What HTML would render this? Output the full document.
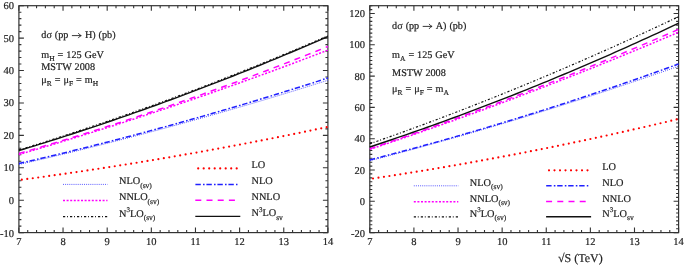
<!DOCTYPE html>
<html><head><meta charset="utf-8"><style>
html,body{margin:0;padding:0;background:#fff;}
svg{display:block;will-change:transform;}
text{font-family:'Liberation Serif', serif;fill:#1e1e1e;text-rendering:geometricPrecision;stroke:#1e1e1e;stroke-width:0.2px;}
.t{font-size:10.5px;}
.it{font-size:10.2px;word-spacing:0.4px;}
.lg{font-size:10.3px;}
.xl{font-size:12px;}
.sub{font-size:7.5px;}
.sup{font-size:7px;}
</style></head><body>
<svg width="685" height="266" viewBox="0 0 685 266">
<rect x="18.9" y="5.7" width="309.0" height="226.9" fill="none" stroke="#333" stroke-width="1.2"/>
<path d="M18.90,232.6v-5M18.90,5.7v5M27.73,232.6v-2.5M27.73,5.7v2.5M36.56,232.6v-2.5M36.56,5.7v2.5M45.39,232.6v-2.5M45.39,5.7v2.5M54.21,232.6v-2.5M54.21,5.7v2.5M63.04,232.6v-5M63.04,5.7v5M71.87,232.6v-2.5M71.87,5.7v2.5M80.70,232.6v-2.5M80.70,5.7v2.5M89.53,232.6v-2.5M89.53,5.7v2.5M98.36,232.6v-2.5M98.36,5.7v2.5M107.19,232.6v-5M107.19,5.7v5M116.01,232.6v-2.5M116.01,5.7v2.5M124.84,232.6v-2.5M124.84,5.7v2.5M133.67,232.6v-2.5M133.67,5.7v2.5M142.50,232.6v-2.5M142.50,5.7v2.5M151.33,232.6v-5M151.33,5.7v5M160.16,232.6v-2.5M160.16,5.7v2.5M168.99,232.6v-2.5M168.99,5.7v2.5M177.81,232.6v-2.5M177.81,5.7v2.5M186.64,232.6v-2.5M186.64,5.7v2.5M195.47,232.6v-5M195.47,5.7v5M204.30,232.6v-2.5M204.30,5.7v2.5M213.13,232.6v-2.5M213.13,5.7v2.5M221.96,232.6v-2.5M221.96,5.7v2.5M230.79,232.6v-2.5M230.79,5.7v2.5M239.61,232.6v-5M239.61,5.7v5M248.44,232.6v-2.5M248.44,5.7v2.5M257.27,232.6v-2.5M257.27,5.7v2.5M266.10,232.6v-2.5M266.10,5.7v2.5M274.93,232.6v-2.5M274.93,5.7v2.5M283.76,232.6v-5M283.76,5.7v5M292.59,232.6v-2.5M292.59,5.7v2.5M301.41,232.6v-2.5M301.41,5.7v2.5M310.24,232.6v-2.5M310.24,5.7v2.5M319.07,232.6v-2.5M319.07,5.7v2.5M327.90,232.6v-5M327.90,5.7v5M18.9,232.60h5M327.9,232.60h-5M18.9,226.12h2.5M327.9,226.12h-2.5M18.9,219.63h2.5M327.9,219.63h-2.5M18.9,213.15h2.5M327.9,213.15h-2.5M18.9,206.67h2.5M327.9,206.67h-2.5M18.9,200.19h5M327.9,200.19h-5M18.9,193.70h2.5M327.9,193.70h-2.5M18.9,187.22h2.5M327.9,187.22h-2.5M18.9,180.74h2.5M327.9,180.74h-2.5M18.9,174.25h2.5M327.9,174.25h-2.5M18.9,167.77h5M327.9,167.77h-5M18.9,161.29h2.5M327.9,161.29h-2.5M18.9,154.81h2.5M327.9,154.81h-2.5M18.9,148.32h2.5M327.9,148.32h-2.5M18.9,141.84h2.5M327.9,141.84h-2.5M18.9,135.36h5M327.9,135.36h-5M18.9,128.87h2.5M327.9,128.87h-2.5M18.9,122.39h2.5M327.9,122.39h-2.5M18.9,115.91h2.5M327.9,115.91h-2.5M18.9,109.43h2.5M327.9,109.43h-2.5M18.9,102.94h5M327.9,102.94h-5M18.9,96.46h2.5M327.9,96.46h-2.5M18.9,89.98h2.5M327.9,89.98h-2.5M18.9,83.49h2.5M327.9,83.49h-2.5M18.9,77.01h2.5M327.9,77.01h-2.5M18.9,70.53h5M327.9,70.53h-5M18.9,64.05h2.5M327.9,64.05h-2.5M18.9,57.56h2.5M327.9,57.56h-2.5M18.9,51.08h2.5M327.9,51.08h-2.5M18.9,44.60h2.5M327.9,44.60h-2.5M18.9,38.11h5M327.9,38.11h-5M18.9,31.63h2.5M327.9,31.63h-2.5M18.9,25.15h2.5M327.9,25.15h-2.5M18.9,18.67h2.5M327.9,18.67h-2.5M18.9,12.18h2.5M327.9,12.18h-2.5M18.9,5.70h5M327.9,5.70h-5" stroke="#333" stroke-width="1.1" fill="none"/>
<text x="18.90" y="245.1" text-anchor="middle" class="t">7</text>
<text x="63.04" y="245.1" text-anchor="middle" class="t">8</text>
<text x="107.19" y="245.1" text-anchor="middle" class="t">9</text>
<text x="151.33" y="245.1" text-anchor="middle" class="t">10</text>
<text x="195.47" y="245.1" text-anchor="middle" class="t">11</text>
<text x="239.61" y="245.1" text-anchor="middle" class="t">12</text>
<text x="283.76" y="245.1" text-anchor="middle" class="t">13</text>
<text x="327.90" y="245.1" text-anchor="middle" class="t">14</text>
<text x="14" y="236.90" text-anchor="end" class="t">-10</text>
<text x="14" y="203.69" text-anchor="end" class="t">0</text>
<text x="14" y="171.27" text-anchor="end" class="t">10</text>
<text x="14" y="138.86" text-anchor="end" class="t">20</text>
<text x="14" y="106.44" text-anchor="end" class="t">30</text>
<text x="14" y="74.03" text-anchor="end" class="t">40</text>
<text x="14" y="41.61" text-anchor="end" class="t">50</text>
<text x="14" y="9.20" text-anchor="end" class="t">60</text>
<path d="M18.90,180.09 L24.14,179.39 L29.37,178.69 L34.61,177.98 L39.85,177.26 L45.09,176.54 L50.32,175.81 L55.56,175.07 L60.80,174.32 L66.04,173.57 L71.27,172.81 L76.51,172.04 L81.75,171.27 L86.98,170.49 L92.22,169.70 L97.46,168.90 L102.70,168.10 L107.93,167.29 L113.17,166.48 L118.41,165.65 L123.65,164.82 L128.88,163.99 L134.12,163.14 L139.36,162.29 L144.59,161.43 L149.83,160.56 L155.07,159.69 L160.31,158.81 L165.54,157.93 L170.78,157.03 L176.02,156.13 L181.26,155.22 L186.49,154.31 L191.73,153.38 L196.97,152.46 L202.21,151.52 L207.44,150.58 L212.68,149.63 L217.92,148.67 L223.15,147.70 L228.39,146.73 L233.63,145.75 L238.87,144.77 L244.10,143.77 L249.34,142.77 L254.58,141.77 L259.82,140.75 L265.05,139.73 L270.29,138.70 L275.53,137.67 L280.76,136.63 L286.00,135.58 L291.24,134.52 L296.48,133.46 L301.71,132.39 L306.95,131.31 L312.19,130.23 L317.43,129.13 L322.66,128.04 L327.90,126.93" fill="none" stroke="#ff0000" stroke-width="2.2" stroke-linecap="round" stroke-dasharray="0 5.525" stroke-dashoffset="-2.93"/>
<path d="M18.90,164.53 L24.14,163.33 L29.37,162.13 L34.61,160.91 L39.85,159.69 L45.09,158.46 L50.32,157.22 L55.56,155.97 L60.80,154.72 L66.04,153.46 L71.27,152.19 L76.51,150.91 L81.75,149.63 L86.98,148.33 L92.22,147.03 L97.46,145.72 L102.70,144.40 L107.93,143.08 L113.17,141.74 L118.41,140.40 L123.65,139.05 L128.88,137.70 L134.12,136.33 L139.36,134.96 L144.59,133.58 L149.83,132.19 L155.07,130.79 L160.31,129.39 L165.54,127.98 L170.78,126.56 L176.02,125.13 L181.26,123.69 L186.49,122.25 L191.73,120.79 L196.97,119.33 L202.21,117.87 L207.44,116.39 L212.68,114.91 L217.92,113.41 L223.15,111.91 L228.39,110.41 L233.63,108.89 L238.87,107.37 L244.10,105.84 L249.34,104.30 L254.58,102.75 L259.82,101.19 L265.05,99.63 L270.29,98.06 L275.53,96.48 L280.76,94.89 L286.00,93.30 L291.24,91.70 L296.48,90.08 L301.71,88.47 L306.95,86.84 L312.19,85.20 L317.43,83.56 L322.66,81.91 L327.90,80.25" fill="none" stroke="#4848ff" stroke-width="0.9" stroke-dasharray="1 1.1"/>
<path d="M18.90,163.56 L24.14,162.35 L29.37,161.14 L34.61,159.92 L39.85,158.69 L45.09,157.45 L50.32,156.20 L55.56,154.95 L60.80,153.68 L66.04,152.41 L71.27,151.13 L76.51,149.84 L81.75,148.54 L86.98,147.24 L92.22,145.92 L97.46,144.60 L102.70,143.27 L107.93,141.93 L113.17,140.58 L118.41,139.22 L123.65,137.85 L128.88,136.48 L134.12,135.10 L139.36,133.71 L144.59,132.31 L149.83,130.90 L155.07,129.48 L160.31,128.06 L165.54,126.62 L170.78,125.18 L176.02,123.73 L181.26,122.27 L186.49,120.81 L191.73,119.33 L196.97,117.85 L202.21,116.35 L207.44,114.85 L212.68,113.34 L217.92,111.82 L223.15,110.30 L228.39,108.76 L233.63,107.22 L238.87,105.67 L244.10,104.11 L249.34,102.54 L254.58,100.96 L259.82,99.37 L265.05,97.78 L270.29,96.18 L275.53,94.56 L280.76,92.94 L286.00,91.32 L291.24,89.68 L296.48,88.03 L301.71,86.38 L306.95,84.72 L312.19,83.05 L317.43,81.37 L322.66,79.68 L327.90,77.98" fill="none" stroke="#2020ff" stroke-width="1.5" stroke-dasharray="5.4 2.2 1.6 1.8"/>
<path d="M18.90,154.48 L24.14,152.96 L29.37,151.42 L34.61,149.88 L39.85,148.33 L45.09,146.77 L50.32,145.20 L55.56,143.62 L60.80,142.04 L66.04,140.44 L71.27,138.84 L76.51,137.23 L81.75,135.61 L86.98,133.99 L92.22,132.35 L97.46,130.71 L102.70,129.05 L107.93,127.39 L113.17,125.73 L118.41,124.05 L123.65,122.36 L128.88,120.67 L134.12,118.97 L139.36,117.26 L144.59,115.54 L149.83,113.81 L155.07,112.07 L160.31,110.33 L165.54,108.58 L170.78,106.82 L176.02,105.05 L181.26,103.27 L186.49,101.49 L191.73,99.69 L196.97,97.89 L202.21,96.08 L207.44,94.26 L212.68,92.43 L217.92,90.60 L223.15,88.75 L228.39,86.90 L233.63,85.04 L238.87,83.17 L244.10,81.29 L249.34,79.40 L254.58,77.51 L259.82,75.61 L265.05,73.70 L270.29,71.78 L275.53,69.85 L280.76,67.91 L286.00,65.97 L291.24,64.01 L296.48,62.05 L301.71,60.08 L306.95,58.10 L312.19,56.12 L317.43,54.12 L322.66,52.12 L327.90,50.11" fill="none" stroke="#ff00ff" stroke-width="1.5" stroke-dasharray="2 1.6"/>
<path d="M18.90,153.51 L24.14,151.99 L29.37,150.47 L34.61,148.93 L39.85,147.38 L45.09,145.82 L50.32,144.25 L55.56,142.68 L60.80,141.09 L66.04,139.49 L71.27,137.88 L76.51,136.26 L81.75,134.63 L86.98,132.99 L92.22,131.34 L97.46,129.68 L102.70,128.01 L107.93,126.33 L113.17,124.64 L118.41,122.94 L123.65,121.23 L128.88,119.51 L134.12,117.78 L139.36,116.04 L144.59,114.29 L149.83,112.52 L155.07,110.75 L160.31,108.97 L165.54,107.18 L170.78,105.37 L176.02,103.56 L181.26,101.74 L186.49,99.90 L191.73,98.06 L196.97,96.21 L202.21,94.34 L207.44,92.47 L212.68,90.58 L217.92,88.69 L223.15,86.78 L228.39,84.87 L233.63,82.94 L238.87,81.01 L244.10,79.06 L249.34,77.11 L254.58,75.14 L259.82,73.16 L265.05,71.18 L270.29,69.18 L275.53,67.17 L280.76,65.16 L286.00,63.13 L291.24,61.09 L296.48,59.04 L301.71,56.99 L306.95,54.92 L312.19,52.84 L317.43,50.75 L322.66,48.65 L327.90,46.54" fill="none" stroke="#ff00ff" stroke-width="1.5" stroke-dasharray="6 5.2"/>
<path d="M18.90,149.94 L24.14,148.34 L29.37,146.72 L34.61,145.09 L39.85,143.45 L45.09,141.80 L50.32,140.14 L55.56,138.46 L60.80,136.78 L66.04,135.08 L71.27,133.37 L76.51,131.65 L81.75,129.92 L86.98,128.18 L92.22,126.43 L97.46,124.66 L102.70,122.89 L107.93,121.10 L113.17,119.30 L118.41,117.49 L123.65,115.67 L128.88,113.84 L134.12,112.00 L139.36,110.14 L144.59,108.28 L149.83,106.40 L155.07,104.51 L160.31,102.61 L165.54,100.70 L170.78,98.78 L176.02,96.84 L181.26,94.90 L186.49,92.94 L191.73,90.97 L196.97,88.99 L202.21,87.00 L207.44,85.00 L212.68,82.99 L217.92,80.96 L223.15,78.93 L228.39,76.88 L233.63,74.82 L238.87,72.75 L244.10,70.67 L249.34,68.58 L254.58,66.48 L259.82,64.36 L265.05,62.24 L270.29,60.10 L275.53,57.95 L280.76,55.79 L286.00,53.62 L291.24,51.44 L296.48,49.24 L301.71,47.04 L306.95,44.82 L312.19,42.60 L317.43,40.36 L322.66,38.11 L327.90,35.85" fill="none" stroke="#111" stroke-width="1.2" stroke-dasharray="2.2 1.8 0.9 2.1"/>
<path d="M18.90,150.59 L24.14,149.01 L29.37,147.41 L34.61,145.80 L39.85,144.18 L45.09,142.55 L50.32,140.91 L55.56,139.25 L60.80,137.58 L66.04,135.90 L71.27,134.21 L76.51,132.50 L81.75,130.79 L86.98,129.06 L92.22,127.32 L97.46,125.56 L102.70,123.80 L107.93,122.02 L113.17,120.23 L118.41,118.43 L123.65,116.62 L128.88,114.79 L134.12,112.95 L139.36,111.11 L144.59,109.24 L149.83,107.37 L155.07,105.48 L160.31,103.59 L165.54,101.68 L170.78,99.76 L176.02,97.82 L181.26,95.88 L186.49,93.92 L191.73,91.95 L196.97,89.97 L202.21,87.97 L207.44,85.96 L212.68,83.95 L217.92,81.92 L223.15,79.87 L228.39,77.82 L233.63,75.75 L238.87,73.67 L244.10,71.58 L249.34,69.48 L254.58,67.37 L259.82,65.24 L265.05,63.10 L270.29,60.95 L275.53,58.79 L280.76,56.61 L286.00,54.42 L291.24,52.23 L296.48,50.01 L301.71,47.79 L306.95,45.56 L312.19,43.31 L317.43,41.05 L322.66,38.78 L327.90,36.49" fill="none" stroke="#111" stroke-width="1.4"/>
<path d="M63,184.4H107.5" fill="none" stroke="#4848ff" stroke-width="0.9" stroke-dasharray="1 1.1"/>
<text x="119" y="184.4" class="lg">NLO<tspan class="sub" dy="3.3">(sv)</tspan></text>
<path d="M63,200.4H107.5" fill="none" stroke="#ff00ff" stroke-width="1.5" stroke-dasharray="2 1.6"/>
<text x="119" y="200.4" class="lg">NNLO<tspan class="sub" dy="3.3">(sv)</tspan></text>
<path d="M63,216.6H107.5" fill="none" stroke="#111" stroke-width="1.2" stroke-dasharray="2.2 1.8 0.9 2.1"/>
<text x="119" y="216.6" class="lg">N<tspan class="sup" dy="-4.6">3</tspan><tspan dy="4.6">LO</tspan><tspan class="sub" dy="3.3">(sv)</tspan></text>
<path d="M198.2,168.4H237.2" fill="none" stroke="#ff0000" stroke-width="2.2" stroke-linecap="round" stroke-dasharray="0 5.5"/>
<text x="251.5" y="168.4" class="lg">LO</text>
<path d="M195.4,184.4H237.5" fill="none" stroke="#2020ff" stroke-width="1.5" stroke-dasharray="5.4 2.2 1.6 1.8"/>
<text x="251.5" y="184.4" class="lg">NLO</text>
<path d="M195.3,200.3H235" fill="none" stroke="#ff00ff" stroke-width="1.5" stroke-dasharray="6 5.2"/>
<text x="251.5" y="200.3" class="lg">NNLO</text>
<path d="M195.3,216.4H240.3" fill="none" stroke="#111" stroke-width="1.4"/>
<text x="251.5" y="216.4" class="lg">N<tspan class="sup" dy="-4.6">3</tspan><tspan dy="4.6">LO</tspan><tspan class="sub" dy="3.3">sv</tspan></text>
<text x="41.3" y="38.2" class="it">dσ (pp</text>
<path d="M71.90,35.60H81.00M78.30,33.10Q79.50,35.20 81.30,35.60Q79.50,36.00 78.30,38.10" stroke="#222" stroke-width="0.9" fill="none"/>
<text x="84.90" y="38.2" class="it">H) (pb)</text>
<text x="41.3" y="57.6" class="it">m<tspan class="sub" dy="3">H</tspan><tspan dy="-3"> = 125 GeV</tspan></text>
<text x="41.3" y="70.1" class="it">MSTW 2008</text>
<text x="41.3" y="83.3" class="it">μ<tspan class="sub" dy="3">R</tspan><tspan dy="-3"> = μ</tspan><tspan class="sub" dy="3">F</tspan><tspan dy="-3"> = m</tspan><tspan class="sub" dy="3">H</tspan></text>
<rect x="369.8" y="5.7" width="308.8" height="226.9" fill="none" stroke="#333" stroke-width="1.2"/>
<path d="M369.80,232.6v-5M369.80,5.7v5M378.62,232.6v-2.5M378.62,5.7v2.5M387.45,232.6v-2.5M387.45,5.7v2.5M396.27,232.6v-2.5M396.27,5.7v2.5M405.09,232.6v-2.5M405.09,5.7v2.5M413.91,232.6v-5M413.91,5.7v5M422.74,232.6v-2.5M422.74,5.7v2.5M431.56,232.6v-2.5M431.56,5.7v2.5M440.38,232.6v-2.5M440.38,5.7v2.5M449.21,232.6v-2.5M449.21,5.7v2.5M458.03,232.6v-5M458.03,5.7v5M466.85,232.6v-2.5M466.85,5.7v2.5M475.67,232.6v-2.5M475.67,5.7v2.5M484.50,232.6v-2.5M484.50,5.7v2.5M493.32,232.6v-2.5M493.32,5.7v2.5M502.14,232.6v-5M502.14,5.7v5M510.97,232.6v-2.5M510.97,5.7v2.5M519.79,232.6v-2.5M519.79,5.7v2.5M528.61,232.6v-2.5M528.61,5.7v2.5M537.43,232.6v-2.5M537.43,5.7v2.5M546.26,232.6v-5M546.26,5.7v5M555.08,232.6v-2.5M555.08,5.7v2.5M563.90,232.6v-2.5M563.90,5.7v2.5M572.73,232.6v-2.5M572.73,5.7v2.5M581.55,232.6v-2.5M581.55,5.7v2.5M590.37,232.6v-5M590.37,5.7v5M599.19,232.6v-2.5M599.19,5.7v2.5M608.02,232.6v-2.5M608.02,5.7v2.5M616.84,232.6v-2.5M616.84,5.7v2.5M625.66,232.6v-2.5M625.66,5.7v2.5M634.49,232.6v-5M634.49,5.7v5M643.31,232.6v-2.5M643.31,5.7v2.5M652.13,232.6v-2.5M652.13,5.7v2.5M660.95,232.6v-2.5M660.95,5.7v2.5M669.78,232.6v-2.5M669.78,5.7v2.5M678.60,232.6v-5M678.60,5.7v5M369.8,232.60h5M678.6,232.60h-5M369.8,228.69h2.5M678.6,228.69h-2.5M369.8,224.78h2.5M678.6,224.78h-2.5M369.8,220.86h2.5M678.6,220.86h-2.5M369.8,216.95h2.5M678.6,216.95h-2.5M369.8,213.04h2.5M678.6,213.04h-2.5M369.8,209.13h2.5M678.6,209.13h-2.5M369.8,205.22h2.5M678.6,205.22h-2.5M369.8,201.30h5M678.6,201.30h-5M369.8,197.39h2.5M678.6,197.39h-2.5M369.8,193.48h2.5M678.6,193.48h-2.5M369.8,189.57h2.5M678.6,189.57h-2.5M369.8,185.66h2.5M678.6,185.66h-2.5M369.8,181.74h2.5M678.6,181.74h-2.5M369.8,177.83h2.5M678.6,177.83h-2.5M369.8,173.92h2.5M678.6,173.92h-2.5M369.8,170.01h5M678.6,170.01h-5M369.8,166.09h2.5M678.6,166.09h-2.5M369.8,162.18h2.5M678.6,162.18h-2.5M369.8,158.27h2.5M678.6,158.27h-2.5M369.8,154.36h2.5M678.6,154.36h-2.5M369.8,150.45h2.5M678.6,150.45h-2.5M369.8,146.53h2.5M678.6,146.53h-2.5M369.8,142.62h2.5M678.6,142.62h-2.5M369.8,138.71h5M678.6,138.71h-5M369.8,134.80h2.5M678.6,134.80h-2.5M369.8,130.89h2.5M678.6,130.89h-2.5M369.8,126.97h2.5M678.6,126.97h-2.5M369.8,123.06h2.5M678.6,123.06h-2.5M369.8,119.15h2.5M678.6,119.15h-2.5M369.8,115.24h2.5M678.6,115.24h-2.5M369.8,111.33h2.5M678.6,111.33h-2.5M369.8,107.41h5M678.6,107.41h-5M369.8,103.50h2.5M678.6,103.50h-2.5M369.8,99.59h2.5M678.6,99.59h-2.5M369.8,95.68h2.5M678.6,95.68h-2.5M369.8,91.77h2.5M678.6,91.77h-2.5M369.8,87.85h2.5M678.6,87.85h-2.5M369.8,83.94h2.5M678.6,83.94h-2.5M369.8,80.03h2.5M678.6,80.03h-2.5M369.8,76.12h5M678.6,76.12h-5M369.8,72.21h2.5M678.6,72.21h-2.5M369.8,68.29h2.5M678.6,68.29h-2.5M369.8,64.38h2.5M678.6,64.38h-2.5M369.8,60.47h2.5M678.6,60.47h-2.5M369.8,56.56h2.5M678.6,56.56h-2.5M369.8,52.64h2.5M678.6,52.64h-2.5M369.8,48.73h2.5M678.6,48.73h-2.5M369.8,44.82h5M678.6,44.82h-5M369.8,40.91h2.5M678.6,40.91h-2.5M369.8,37.00h2.5M678.6,37.00h-2.5M369.8,33.08h2.5M678.6,33.08h-2.5M369.8,29.17h2.5M678.6,29.17h-2.5M369.8,25.26h2.5M678.6,25.26h-2.5M369.8,21.35h2.5M678.6,21.35h-2.5M369.8,17.44h2.5M678.6,17.44h-2.5M369.8,13.52h5M678.6,13.52h-5M369.8,9.61h2.5M678.6,9.61h-2.5M369.8,5.70h2.5M678.6,5.70h-2.5" stroke="#333" stroke-width="1.1" fill="none"/>
<text x="369.80" y="245.1" text-anchor="middle" class="t">7</text>
<text x="413.91" y="245.1" text-anchor="middle" class="t">8</text>
<text x="458.03" y="245.1" text-anchor="middle" class="t">9</text>
<text x="502.14" y="245.1" text-anchor="middle" class="t">10</text>
<text x="546.26" y="245.1" text-anchor="middle" class="t">11</text>
<text x="590.37" y="245.1" text-anchor="middle" class="t">12</text>
<text x="634.49" y="245.1" text-anchor="middle" class="t">13</text>
<text x="678.60" y="245.1" text-anchor="middle" class="t">14</text>
<text x="365" y="236.90" text-anchor="end" class="t">-20</text>
<text x="365" y="204.80" text-anchor="end" class="t">0</text>
<text x="365" y="173.51" text-anchor="end" class="t">20</text>
<text x="365" y="142.21" text-anchor="end" class="t">40</text>
<text x="365" y="110.91" text-anchor="end" class="t">60</text>
<text x="365" y="79.62" text-anchor="end" class="t">80</text>
<text x="365" y="48.32" text-anchor="end" class="t">100</text>
<text x="365" y="17.02" text-anchor="end" class="t">120</text>
<path d="M369.80,178.95 L375.03,178.18 L380.27,177.39 L385.50,176.59 L390.74,175.79 L395.97,174.98 L401.20,174.16 L406.44,173.33 L411.67,172.50 L416.91,171.65 L422.14,170.80 L427.37,169.94 L432.61,169.07 L437.84,168.19 L443.07,167.31 L448.31,166.41 L453.54,165.51 L458.78,164.60 L464.01,163.68 L469.24,162.76 L474.48,161.82 L479.71,160.88 L484.95,159.93 L490.18,158.97 L495.41,158.00 L500.65,157.02 L505.88,156.04 L511.12,155.05 L516.35,154.05 L521.58,153.04 L526.82,152.02 L532.05,150.99 L537.28,149.96 L542.52,148.92 L547.75,147.87 L552.99,146.81 L558.22,145.74 L563.45,144.67 L568.69,143.59 L573.92,142.49 L579.16,141.39 L584.39,140.29 L589.62,139.17 L594.86,138.05 L600.09,136.91 L605.33,135.77 L610.56,134.63 L615.79,133.47 L621.03,132.30 L626.26,131.13 L631.49,129.95 L636.73,128.76 L641.96,127.56 L647.20,126.35 L652.43,125.14 L657.66,123.92 L662.90,122.68 L668.13,121.45 L673.37,120.20 L678.60,118.94" fill="none" stroke="#ff0000" stroke-width="2.2" stroke-linecap="round" stroke-dasharray="0 5.525" stroke-dashoffset="-3.25"/>
<path d="M369.80,160.74 L375.03,159.38 L380.27,158.01 L385.50,156.63 L390.74,155.25 L395.97,153.85 L401.20,152.45 L406.44,151.04 L411.67,149.62 L416.91,148.20 L422.14,146.76 L427.37,145.32 L432.61,143.86 L437.84,142.40 L443.07,140.93 L448.31,139.46 L453.54,137.97 L458.78,136.48 L464.01,134.97 L469.24,133.46 L474.48,131.94 L479.71,130.42 L484.95,128.88 L490.18,127.34 L495.41,125.78 L500.65,124.22 L505.88,122.65 L511.12,121.08 L516.35,119.49 L521.58,117.90 L526.82,116.29 L532.05,114.68 L537.28,113.06 L542.52,111.44 L547.75,109.80 L552.99,108.16 L558.22,106.50 L563.45,104.84 L568.69,103.17 L573.92,101.49 L579.16,99.81 L584.39,98.11 L589.62,96.41 L594.86,94.70 L600.09,92.98 L605.33,91.25 L610.56,89.52 L615.79,87.77 L621.03,86.02 L626.26,84.26 L631.49,82.49 L636.73,80.71 L641.96,78.92 L647.20,77.13 L652.43,75.33 L657.66,73.51 L662.90,71.69 L668.13,69.87 L673.37,68.03 L678.60,66.18" fill="none" stroke="#4848ff" stroke-width="0.9" stroke-dasharray="1 1.1"/>
<path d="M369.80,159.91 L375.03,158.56 L380.27,157.21 L385.50,155.84 L390.74,154.47 L395.97,153.08 L401.20,151.69 L406.44,150.28 L411.67,148.87 L416.91,147.45 L422.14,146.02 L427.37,144.57 L432.61,143.12 L437.84,141.66 L443.07,140.19 L448.31,138.71 L453.54,137.22 L458.78,135.71 L464.01,134.20 L469.24,132.68 L474.48,131.15 L479.71,129.61 L484.95,128.07 L490.18,126.51 L495.41,124.94 L500.65,123.36 L505.88,121.77 L511.12,120.18 L516.35,118.57 L521.58,116.95 L526.82,115.32 L532.05,113.69 L537.28,112.04 L542.52,110.39 L547.75,108.72 L552.99,107.05 L558.22,105.36 L563.45,103.67 L568.69,101.96 L573.92,100.25 L579.16,98.52 L584.39,96.79 L589.62,95.05 L594.86,93.30 L600.09,91.53 L605.33,89.76 L610.56,87.98 L615.79,86.19 L621.03,84.39 L626.26,82.58 L631.49,80.76 L636.73,78.93 L641.96,77.09 L647.20,75.24 L652.43,73.38 L657.66,71.51 L662.90,69.63 L668.13,67.74 L673.37,65.84 L678.60,63.93" fill="none" stroke="#2020ff" stroke-width="1.5" stroke-dasharray="5.4 2.2 1.6 1.8"/>
<path d="M369.80,149.33 L375.03,147.59 L380.27,145.84 L385.50,144.09 L390.74,142.32 L395.97,140.55 L401.20,138.77 L406.44,136.98 L411.67,135.18 L416.91,133.38 L422.14,131.56 L427.37,129.74 L432.61,127.90 L437.84,126.06 L443.07,124.21 L448.31,122.36 L453.54,120.49 L458.78,118.62 L464.01,116.73 L469.24,114.84 L474.48,112.94 L479.71,111.03 L484.95,109.11 L490.18,107.19 L495.41,105.25 L500.65,103.31 L505.88,101.36 L511.12,99.40 L516.35,97.43 L521.58,95.46 L526.82,93.47 L532.05,91.48 L537.28,89.48 L542.52,87.46 L547.75,85.45 L552.99,83.42 L558.22,81.38 L563.45,79.34 L568.69,77.28 L573.92,75.22 L579.16,73.15 L584.39,71.07 L589.62,68.99 L594.86,66.89 L600.09,64.79 L605.33,62.67 L610.56,60.55 L615.79,58.42 L621.03,56.29 L626.26,54.14 L631.49,51.98 L636.73,49.82 L641.96,47.65 L647.20,45.47 L652.43,43.28 L657.66,41.08 L662.90,38.87 L668.13,36.66 L673.37,34.44 L678.60,32.21" fill="none" stroke="#ff00ff" stroke-width="1.5" stroke-dasharray="2 1.6"/>
<path d="M369.80,148.79 L375.03,147.02 L380.27,145.24 L385.50,143.45 L390.74,141.66 L395.97,139.85 L401.20,138.04 L406.44,136.22 L411.67,134.38 L416.91,132.54 L422.14,130.69 L427.37,128.84 L432.61,126.97 L437.84,125.10 L443.07,123.21 L448.31,121.32 L453.54,119.42 L458.78,117.51 L464.01,115.59 L469.24,113.66 L474.48,111.72 L479.71,109.78 L484.95,107.82 L490.18,105.86 L495.41,103.89 L500.65,101.91 L505.88,99.92 L511.12,97.92 L516.35,95.92 L521.58,93.90 L526.82,91.88 L532.05,89.84 L537.28,87.80 L542.52,85.75 L547.75,83.69 L552.99,81.62 L558.22,79.55 L563.45,77.46 L568.69,75.37 L573.92,73.26 L579.16,71.15 L584.39,69.03 L589.62,66.90 L594.86,64.76 L600.09,62.62 L605.33,60.46 L610.56,58.30 L615.79,56.12 L621.03,53.94 L626.26,51.75 L631.49,49.55 L636.73,47.34 L641.96,45.13 L647.20,42.90 L652.43,40.67 L657.66,38.42 L662.90,36.17 L668.13,33.91 L673.37,31.64 L678.60,29.36" fill="none" stroke="#ff00ff" stroke-width="1.5" stroke-dasharray="6 5.2"/>
<path d="M369.80,143.80 L375.03,141.97 L380.27,140.12 L385.50,138.27 L390.74,136.41 L395.97,134.53 L401.20,132.65 L406.44,130.75 L411.67,128.84 L416.91,126.92 L422.14,124.99 L427.37,123.05 L432.61,121.10 L437.84,119.13 L443.07,117.16 L448.31,115.17 L453.54,113.17 L458.78,111.16 L464.01,109.14 L469.24,107.11 L474.48,105.07 L479.71,103.01 L484.95,100.95 L490.18,98.87 L495.41,96.79 L500.65,94.69 L505.88,92.58 L511.12,90.46 L516.35,88.32 L521.58,86.18 L526.82,84.02 L532.05,81.86 L537.28,79.68 L542.52,77.49 L547.75,75.29 L552.99,73.08 L558.22,70.86 L563.45,68.63 L568.69,66.38 L573.92,64.13 L579.16,61.86 L584.39,59.58 L589.62,57.29 L594.86,54.99 L600.09,52.68 L605.33,50.36 L610.56,48.03 L615.79,45.68 L621.03,43.32 L626.26,40.96 L631.49,38.58 L636.73,36.19 L641.96,33.79 L647.20,31.37 L652.43,28.95 L657.66,26.52 L662.90,24.07 L668.13,21.61 L673.37,19.14 L678.60,16.66" fill="none" stroke="#111" stroke-width="1.2" stroke-dasharray="2.2 1.8 0.9 2.1"/>
<path d="M369.80,146.99 L375.03,145.26 L380.27,143.52 L385.50,141.76 L390.74,139.99 L395.97,138.21 L401.20,136.41 L406.44,134.60 L411.67,132.78 L416.91,130.95 L422.14,129.10 L427.37,127.24 L432.61,125.37 L437.84,123.49 L443.07,121.59 L448.31,119.69 L453.54,117.76 L458.78,115.83 L464.01,113.88 L469.24,111.93 L474.48,109.95 L479.71,107.97 L484.95,105.97 L490.18,103.96 L495.41,101.94 L500.65,99.91 L505.88,97.86 L511.12,95.80 L516.35,93.73 L521.58,91.64 L526.82,89.55 L532.05,87.44 L537.28,85.31 L542.52,83.18 L547.75,81.03 L552.99,78.87 L558.22,76.70 L563.45,74.51 L568.69,72.31 L573.92,70.10 L579.16,67.88 L584.39,65.64 L589.62,63.40 L594.86,61.13 L600.09,58.86 L605.33,56.57 L610.56,54.28 L615.79,51.96 L621.03,49.64 L626.26,47.30 L631.49,44.95 L636.73,42.59 L641.96,40.22 L647.20,37.83 L652.43,35.43 L657.66,33.02 L662.90,30.60 L668.13,28.16 L673.37,25.71 L678.60,23.25" fill="none" stroke="#111" stroke-width="1.4"/>
<path d="M413.8,185.8H458.3" fill="none" stroke="#4848ff" stroke-width="0.9" stroke-dasharray="1 1.1"/>
<text x="469.8" y="185.8" class="lg">NLO<tspan class="sub" dy="3.3">(sv)</tspan></text>
<path d="M413.8,201.7H458.3" fill="none" stroke="#ff00ff" stroke-width="1.5" stroke-dasharray="2 1.6"/>
<text x="469.8" y="201.7" class="lg">NNLO<tspan class="sub" dy="3.3">(sv)</tspan></text>
<path d="M413.8,216.8H458.3" fill="none" stroke="#111" stroke-width="1.2" stroke-dasharray="2.2 1.8 0.9 2.1"/>
<text x="469.8" y="216.8" class="lg">N<tspan class="sup" dy="-4.6">3</tspan><tspan dy="4.6">LO</tspan><tspan class="sub" dy="3.3">(sv)</tspan></text>
<path d="M549.0,170.3H588.0" fill="none" stroke="#ff0000" stroke-width="2.2" stroke-linecap="round" stroke-dasharray="0 5.5"/>
<text x="602.3" y="170.3" class="lg">LO</text>
<path d="M546.2,185.8H588.3" fill="none" stroke="#2020ff" stroke-width="1.5" stroke-dasharray="5.4 2.2 1.6 1.8"/>
<text x="602.3" y="185.8" class="lg">NLO</text>
<path d="M546.1,201.5H585.8" fill="none" stroke="#ff00ff" stroke-width="1.5" stroke-dasharray="6 5.2"/>
<text x="602.3" y="201.5" class="lg">NNLO</text>
<path d="M546.1,216.8H591.1" fill="none" stroke="#111" stroke-width="1.4"/>
<text x="602.3" y="216.8" class="lg">N<tspan class="sup" dy="-4.6">3</tspan><tspan dy="4.6">LO</tspan><tspan class="sub" dy="3.3">sv</tspan></text>
<text x="392.1" y="29" class="it">dσ (pp</text>
<path d="M422.70,26.40H431.80M429.10,23.90Q430.30,26.00 432.10,26.40Q430.30,26.80 429.10,28.90" stroke="#222" stroke-width="0.9" fill="none"/>
<text x="435.70" y="29" class="it">A) (pb)</text>
<text x="392.1" y="57.6" class="it">m<tspan class="sub" dy="3">A</tspan><tspan dy="-3"> = 125 GeV</tspan></text>
<text x="392.1" y="76" class="it">MSTW 2008</text>
<text x="392.1" y="91.6" class="it">μ<tspan class="sub" dy="3">R</tspan><tspan dy="-3"> = μ</tspan><tspan class="sub" dy="3">F</tspan><tspan dy="-3"> = m</tspan><tspan class="sub" dy="3">A</tspan></text>
<text x="558" y="262.3" class="xl">√S (TeV)</text>
</svg>
</body></html>
